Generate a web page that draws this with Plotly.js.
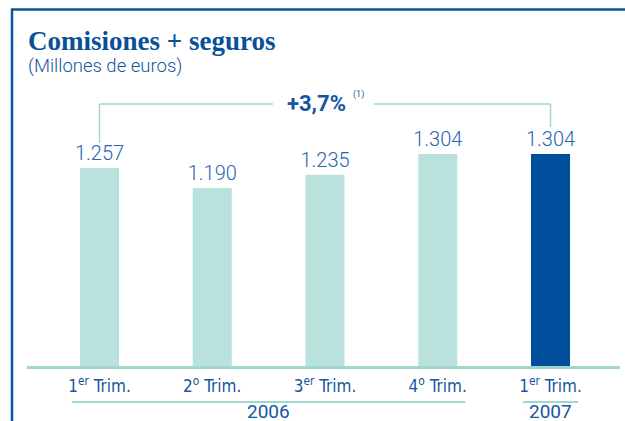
<!DOCTYPE html>
<html>
<head>
<meta charset="utf-8">
<script src="https://cdn.plot.ly/plotly-3.0.1.min.js"></script>
<style>html,body{margin:0;padding:0;background:#fff;}#chart{width:625px;height:421px;}</style>
</head>
<body>
<div id="chart"></div>
<script>
// ---- data ----
const categories = ["1T06", "2T06", "3T06", "4T06", "1T07"];
const tickLabels = ["1<sup>er</sup> Trim.", "2<sup>o</sup> Trim.", "3<sup>er</sup> Trim.", "4<sup>o</sup> Trim.", "1<sup>er</sup> Trim."];
const values = [1257, 1190, 1235, 1304, 1304];
const years = ["2006", "2007"];
const yearGroups = [[0, 3], [4, 4]];
const titleText = "Comisiones + seguros";
const subtitleText = "(Millones de euros)";
const noteMark = "(1)";

// ---- layout helpers ----
const W = 625, H = 421;
const M = {l: 27, r: 5, t: 90, b: 55};
const pw = W - M.l - M.r, ph = H - M.t - M.b;
const px = x => (x - M.l) / pw;
const py = y => (H - M.b - y) / ph;

const light = "rgb(185,226,220)";
const dark = "rgb(0,80,158)";
const teal = "rgb(160,215,207)";
const frame = "rgb(12,86,160)";
const textBlue = "rgb(22,86,160)";
const valBlue = "rgb(40,100,176)";

const growth = (values[values.length - 1] / values[0] - 1) * 100;
const growthText = "+" + growth.toFixed(1).replace(".", ",") + "%";

const trace = {
  type: "bar",
  x: categories,
  y: values,
  marker: {color: values.map((v, i) => i === values.length - 1 ? dark : light)},
  texttemplate: "%{y:,}",
  textposition: "outside",
  constraintext: "none",
  cliponaxis: false,
  textfont: {family: "Roboto, sans-serif", size: 20, color: valBlue, weight: 300},
  hoverinfo: "none"
};

const shapes = [
  // frame
  {type: "line", xref: "paper", yref: "paper", x0: px(11), x1: px(625), y0: py(9.5), y1: py(9.5), line: {color: frame, width: 2.5}},
  {type: "line", xref: "paper", yref: "paper", x0: px(12), x1: px(12), y0: py(9), y1: py(421), line: {color: frame, width: 2.5}},
  // bracket
  {type: "line", xref: "x", yref: "paper", x0: 0, x1: 0, y0: py(104), y1: py(143), line: {color: teal, width: 1.5}},
  {type: "line", xref: "x", yref: "paper", x0: 4, x1: 4, y0: py(104), y1: py(127), line: {color: teal, width: 1.5}},
  {type: "line", xref: "x", yref: "paper", x0: 0, x1: (273 - 99.5) / 112.75, y0: py(104), y1: py(104), line: {color: teal, width: 1.5}},
  {type: "line", xref: "x", yref: "paper", x0: (374 - 99.5) / 112.75, x1: 4, y0: py(104), y1: py(104), line: {color: teal, width: 1.5}}
];
yearGroups.forEach(g => {
  shapes.push({type: "line", xref: "x", yref: "paper", x0: g[0] - 0.245, x1: g[1] + 0.245, y0: py(402), y1: py(402), line: {color: teal, width: 2}});
});

const annotations = [
  {text: "<b>" + titleText + "</b>", xref: "paper", yref: "paper", x: px(26), y: py(41), xanchor: "left", yanchor: "middle", showarrow: false,
   font: {family: "Liberation Serif, serif", size: 27, color: "rgb(10,80,152)"}},
  {text: subtitleText, xref: "paper", yref: "paper", x: px(26), y: py(66), xanchor: "left", yanchor: "middle", showarrow: false,
   font: {family: "Roboto, sans-serif", size: 18.5, color: textBlue, weight: 300}},
  {text: "<b>" + growthText + "</b>", xref: "paper", yref: "paper", x: px(316), y: py(103), xanchor: "center", yanchor: "middle", showarrow: false,
   font: {family: "Roboto, sans-serif", size: 22, color: textBlue}},
  {text: noteMark, xref: "paper", yref: "paper", x: px(358), y: py(95), xanchor: "center", yanchor: "middle", showarrow: false,
   font: {family: "Roboto, sans-serif", size: 9, color: textBlue}}
];
yearGroups.forEach((g, i) => {
  annotations.push({text: years[i], xref: "x", yref: "paper", x: (g[0] + g[1]) / 2, y: py(411), xanchor: "center", yanchor: "middle", showarrow: false,
    font: {family: "Roboto, sans-serif", size: 19, color: textBlue}});
});

const layout = {
  width: W, height: H,
  margin: M,
  paper_bgcolor: "#fff", plot_bgcolor: "#fff",
  showlegend: false,
  separators: ",.",
  bargap: 0.654,
  xaxis: {
    type: "category",
    range: [-(99.5 - 27) / 112.75, 4 + (620 - 550.5) / 112.75],
    tickvals: categories, ticktext: tickLabels,
    ticks: "", ticklabelstandoff: 3,
    showline: true, linecolor: teal, linewidth: 3,
    showgrid: false, zeroline: false,
    tickfont: {family: "DejaVu Sans Condensed, DejaVu Sans, sans-serif", stretch: "condensed", size: 17, color: textBlue}
  },
  yaxis: {
    range: [593, 1519],
    visible: false, showgrid: false, zeroline: false
  },
  shapes: shapes,
  annotations: annotations
};

Plotly.newPlot("chart", [trace], layout, {staticPlot: true, displayModeBar: false});
</script>
</body>
</html>
